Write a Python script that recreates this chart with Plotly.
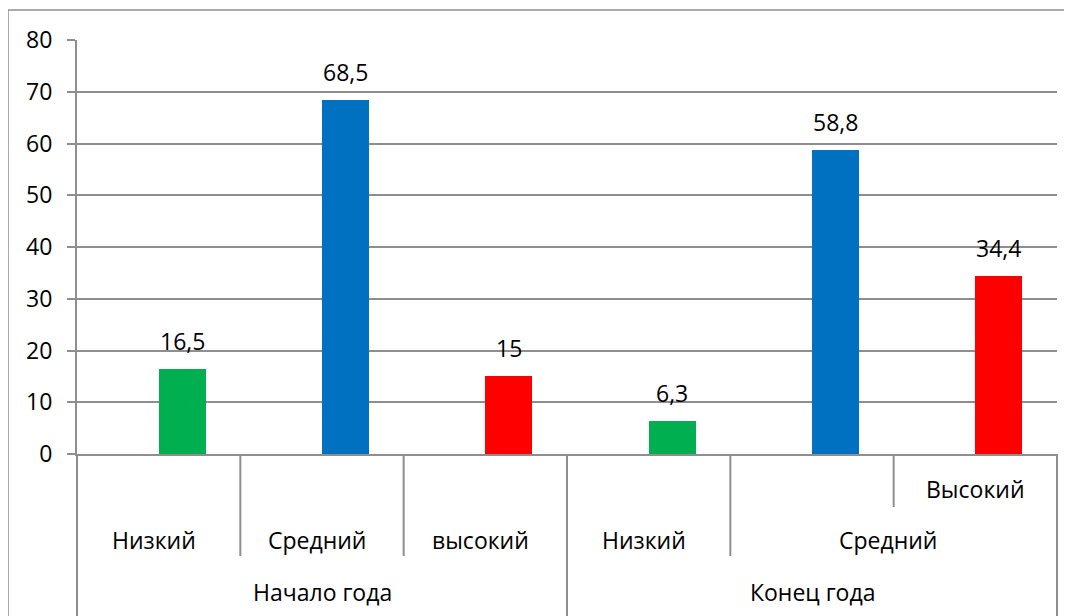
import plotly.graph_objects as go

# ---- data ----
groups = ["Начало года", "Конец года"]
level_labels = ["Низкий", "Средний", "высокий", "Низкий", "Средний"]
top_label = "Высокий"
values = [16.5, 68.5, 15, 6.3, 58.8, 34.4]
value_text = ["16,5", "68,5", "15", "6,3", "58,8", "34,4"]
bar_colors = ["#00B050", "#0070C0", "#FF0000", "#00B050", "#0070C0", "#FF0000"]
y_ticks = [0, 10, 20, 30, 40, 50, 60, 70, 80]

# page has an 8px body margin; figure is placed at (8, 8)
OFF = 8
W, H = 1072 - OFF, 616 - OFF
# plot area in page pixels: x 77..1057, y 40..454
ML = 77 - OFF
MT = 40 - OFF
MR = W - (1057 - OFF)
MB = H - (454 - OFF)
plot_h = H - MT - MB
plot_w = W - ML - MR

def py(ypage):
    return (454 - ypage) / plot_h

def px(xpage):
    return (xpage - 77) / plot_w

GRID = "#8e8e8e"
FONT = "Open Sans"
FS = 23
BW = 0.288

n = len(values)
xs = [i + 0.5 for i in range(n)]

fig = go.Figure()
fig.add_trace(go.Bar(
    x=xs, y=values, width=BW, offset=0,
    marker=dict(color=bar_colors, line=dict(width=0)),
    hoverinfo="skip",
))

f = dict(family=FONT, size=FS, color="black")
ann = []
for i, (v, t) in enumerate(zip(values, value_text)):
    ann.append(dict(x=xs[i] + BW / 2, y=v, xref="x", yref="y", text=t,
                    showarrow=False, yanchor="bottom", yshift=10, font=f))

# first-level labels
for i, lab in enumerate(level_labels[:4]):
    ann.append(dict(x=xs[i] - 0.03, y=py(540), xref="x", yref="paper", text=lab,
                    showarrow=False, yanchor="middle", font=f))
ann.append(dict(x=5.0 - 0.03, y=py(540), xref="x", yref="paper", text=level_labels[4],
                showarrow=False, yanchor="middle", font=f))
ann.append(dict(x=xs[5], y=py(489), xref="x", yref="paper", text=top_label,
                showarrow=False, yanchor="middle", font=f))
# group labels
for g, lab in enumerate(groups):
    ann.append(dict(x=g * 3 + 1.5, y=py(592), xref="x", yref="paper", text=lab,
                    showarrow=False, yanchor="middle", font=f))

shapes = []
line = dict(color=GRID, width=2)
# separators
for xb, ybot in [(0, 640), (1, 556), (2, 556), (3, 640), (4, 556), (5, 507), (6, 640)]:
    shapes.append(dict(type="line", xref="paper", yref="paper",
                       x0=xb / 6, x1=xb / 6, y0=0, y1=py(ybot), line=line))
# outer chart border
shapes.append(dict(type="rect", xref="paper", yref="paper",
                   x0=px(8), x1=px(1100), y0=py(660), y1=py(10),
                   line=dict(color="#8e8e8e", width=1.5)))

fig.update_layout(
    width=W, height=H,
    margin=dict(l=ML, r=MR, t=MT, b=MB, pad=0),
    paper_bgcolor="white", plot_bgcolor="white",
    showlegend=False,
    font=f,
    xaxis=dict(range=[0, 6], showgrid=False, zeroline=False, showticklabels=False,
               showline=True, linecolor=GRID, linewidth=2, ticks=""),
    yaxis=dict(range=[0, 80], tickvals=y_ticks, showgrid=True, gridcolor=GRID,
               gridwidth=2, zeroline=False, showline=True, linecolor=GRID,
               linewidth=2, ticks="outside", ticklen=8, tickcolor=GRID,
               tickwidth=2, ticklabelstandoff=10, tickfont=f),
    annotations=ann,
    shapes=shapes,
    bargap=0,
)

fig.write_html("out.html")
